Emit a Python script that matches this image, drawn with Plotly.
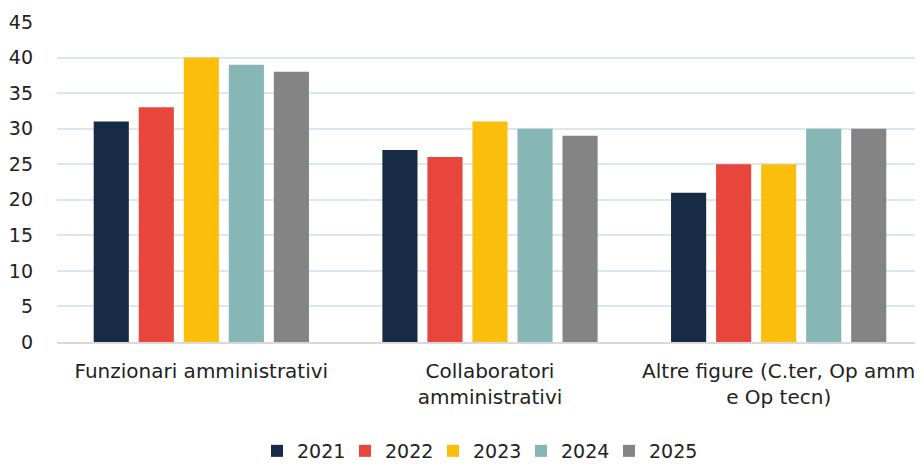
import plotly.graph_objects as go

categories = ["Funzionari amministrativi", "Collaboratori<br>amministrativi", "Altre figure (C.ter, Op amm<br>e Op tecn)"]
years = ["2021", "2022", "2023", "2024", "2025"]
values = {
    "2021": [31, 27, 21],
    "2022": [33, 26, 25],
    "2023": [40, 31, 25],
    "2024": [39, 30, 30],
    "2025": [38, 29, 30],
}
colors = ["#172B45", "#E8463D", "#FBBF0B", "#87B7B4", "#848484"]
y_ticks = list(range(0, 50, 5))

fig = go.Figure()
for yr, c in zip(years, colors):
    fig.add_trace(go.Bar(x=categories, y=values[yr], name=yr, marker=dict(color=c, line=dict(width=0))))

font = "DejaVu Sans, sans-serif"
fig.update_layout(
    width=915, height=456,
    margin=dict(l=49, r=0, t=14, b=122, autoexpand=False),
    paper_bgcolor="white", plot_bgcolor="white",
    barmode="group", bargap=0.22, bargroupgap=0.22,
    font=dict(family=font, size=19, color="#222222"),
    showlegend=True,
    legend=dict(orientation="h", x=0.485, xanchor="center", yref="container", y=13/456, yanchor="middle",
                font=dict(size=19), itemwidth=30, entrywidth=43, entrywidthmode="pixels",
                traceorder="normal"),
    xaxis=dict(showgrid=False, showline=True, linecolor="#D9D9D9", linewidth=2,
               ticks="", tickfont=dict(size=20), ticklabelstandoff=10, automargin=False),
    yaxis=dict(range=[0, 45], tickvals=y_ticks, showgrid=True, gridcolor="#DCE6F2",
               gridwidth=2, zeroline=False, showline=False, ticks="",
               tickfont=dict(size=19), ticklabelstandoff=23, automargin=False),
)
fig.write_html("out.html")
